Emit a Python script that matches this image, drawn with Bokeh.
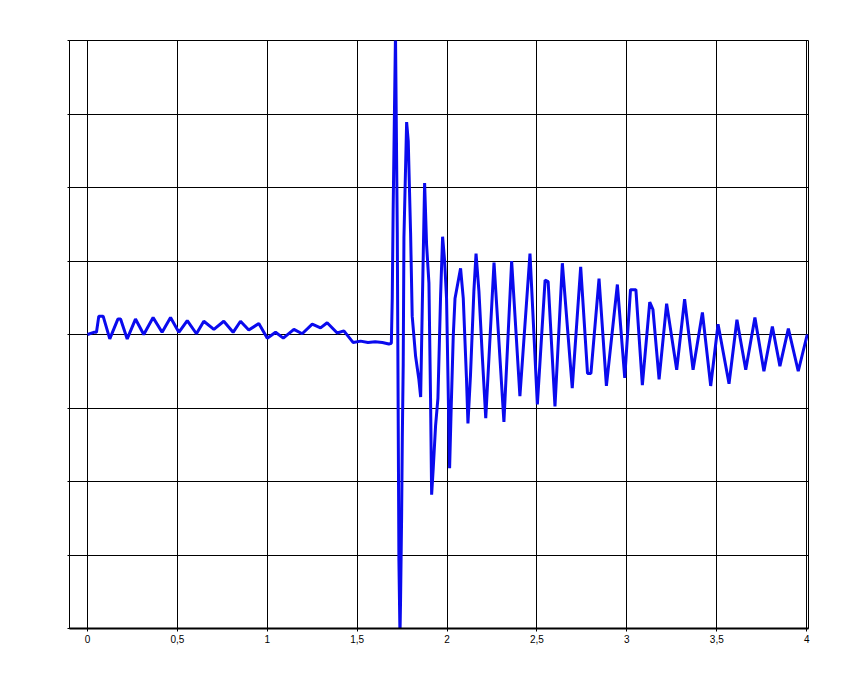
from bokeh.plotting import figure
from bokeh.models import Range1d, FixedTicker, ColumnDataSource
from bokeh.embed import file_html
from bokeh.resources import INLINE

# ---- data ----
t_quiet = [0.0, 0.035, 0.05, 0.063, 0.087, 0.124, 0.169, 0.184, 0.221, 0.267,
           0.313, 0.365, 0.415, 0.462, 0.508, 0.555, 0.606, 0.647, 0.703, 0.758,
           0.81, 0.851, 0.897, 0.953, 1.0, 1.046, 1.089, 1.148, 1.194, 1.25,
           1.296, 1.333, 1.389, 1.426, 1.478, 1.519, 1.56, 1.60, 1.64, 1.676,
           1.69]
y_quiet = [0.0, 0.03, 0.03, 0.25, 0.25, -0.06, 0.21, 0.21, -0.06, 0.21,
           0.0, 0.23, 0.03, 0.23, 0.03, 0.19, 0.01, 0.18, 0.07, 0.18,
           0.03, 0.18, 0.06, 0.15, -0.05, 0.03, -0.05, 0.07, 0.01, 0.14,
           0.09, 0.16, 0.02, 0.05, -0.11, -0.09, -0.11, -0.10, -0.11, -0.13,
           -0.12]

t_burst = [1.695, 1.70, 1.713, 1.723, 1.732, 1.738, 1.741, 1.747, 1.751, 1.756,
           1.76, 1.775, 1.784, 1.797, 1.806, 1.825, 1.843, 1.853, 1.862, 1.875,
           1.886, 1.899, 1.908, 1.914, 1.923, 1.936, 1.949, 1.964, 1.975, 1.986,
           1.997, 2.014, 2.023, 2.034, 2.044, 2.075, 2.09, 2.108, 2.116, 2.13,
           2.149, 2.161, 2.177, 2.196, 2.215]
y_burst = [0.49, 1.69, 4.1, 1.38, -3.07, -4.1, -3.65, -2.5, -1.40, -0.40,
           1.32, 2.89, 2.63, 1.38, 0.25, -0.30, -0.61, -0.85, 0.38, 2.06,
           1.22, 0.70, -0.87, -2.18, -1.82, -1.24, -0.87, 0.54, 1.33, 1.01,
           0.49, -1.82, -0.98, -0.04, 0.49, 0.90, 0.49, -0.61, -1.21, -0.56,
           0.59, 1.10, 0.59, -0.30, -1.14]

t_decay = [2.261, 2.316, 2.359, 2.405, 2.461, 2.502, 2.545, 2.562, 2.60, 2.641,
           2.696, 2.743, 2.781, 2.800, 2.845, 2.886, 2.947, 2.988, 3.02, 3.05,
           3.086, 3.127, 3.145, 3.179, 3.221, 3.277, 3.321, 3.368, 3.42, 3.466,
           3.507, 3.568, 3.612, 3.661, 3.712, 3.762, 3.809, 3.851, 3.898, 3.953,
           4.003]
y_decay = [0.98, -1.19, 1.0, -0.84, 1.10, -0.95, 0.74, 0.72, -0.98, 0.97,
           -0.73, 0.92, -0.53, -0.53, 0.76, -0.70, 0.68, -0.59, 0.61, 0.61,
           -0.69, 0.44, 0.34, -0.61, 0.42, -0.48, 0.48, -0.48, 0.30, -0.70,
           0.14, -0.67, 0.20, -0.48, 0.23, -0.50, 0.11, -0.43, 0.08, -0.50,
           0.0]

x_ticks = [0, 0.5, 1, 1.5, 2, 2.5, 3, 3.5, 4]
x_labels = ["0", "0,5", "1", "1,5", "2", "2,5", "3", "3,5", "4"]
y_ticks = [-4, -3, -2, -1, 0, 1, 2, 3, 4]

t = t_quiet + t_burst + t_decay
y = y_quiet + y_burst + y_decay
src = ColumnDataSource(data=dict(t=t, y=y))

p = figure(width=840, height=668,
           x_range=Range1d(-0.1, 4.01), y_range=Range1d(-4, 4),
           output_backend="svg", toolbar_location=None,
           min_border_left=69, min_border_top=40,
           min_border_right=32, min_border_bottom=40)

p.background_fill_color = "white"
p.border_fill_color = "white"
p.outline_line_color = "black"
p.outline_line_width = 1
p.outline_line_alpha = 1

# x axis
xa = p.xaxis[0]
xa.ticker = FixedTicker(ticks=x_ticks)
xa.major_label_overrides = {k: v for k, v in zip(x_ticks, x_labels)}
xa.axis_line_color = "black"
xa.axis_line_width = 2
xa.major_tick_line_color = "black"
xa.major_tick_out = 3
xa.major_tick_in = 0
xa.minor_tick_out = 0
xa.minor_tick_in = 0
xa.major_label_text_font = "Liberation Sans"
xa.major_label_text_font_size = "10px"
xa.major_label_text_color = "black"
xa.major_label_standoff = 3

# y axis (no labels)
ya = p.yaxis[0]
ya.ticker = FixedTicker(ticks=y_ticks)
ya.major_label_overrides = {k: "" for k in y_ticks}
ya.axis_line_color = "black"
ya.axis_line_width = 1
ya.major_tick_line_color = "black"
ya.major_tick_out = 2
ya.major_tick_in = 0
ya.minor_tick_out = 0
ya.minor_tick_in = 0

for g in (p.xgrid[0], p.ygrid[0]):
    g.grid_line_color = "black"
    g.grid_line_alpha = 1
    g.grid_line_width = 1

p.line("t", "y", source=src, line_color="#0a0aee", line_width=3)

open("out.html", "w").write(file_html(p, INLINE))
